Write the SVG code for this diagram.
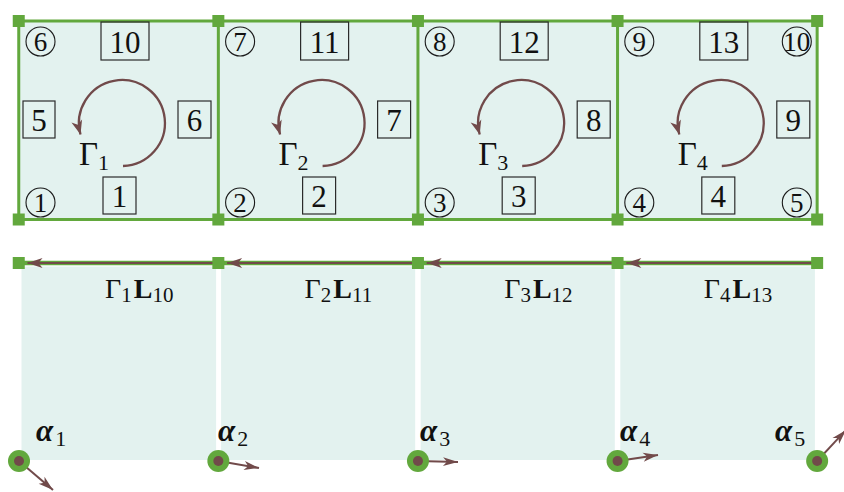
<svg xmlns="http://www.w3.org/2000/svg" width="844" height="492" viewBox="0 0 844 492">
<style>
.fill{fill:#e3f2ef}
.grid{fill:none;stroke:#62a83d;stroke-width:3}
.node{fill:#62a83d}
.box{fill:none;stroke:#2b2b2b;stroke-width:1.2}
.circ{fill:none;stroke:#1a1a1a;stroke-width:1.1}
.t{font-family:"Liberation Serif","DejaVu Serif",serif;fill:#111}
.num{font-size:31px;text-anchor:middle}
.cn{font-size:27px;text-anchor:middle}
.gam{fill:none;stroke:#714a4a;stroke-width:2.3}
.edgeG{stroke:#62a83d;stroke-width:4.5;fill:none}
.edgeB{stroke:#714a4a;stroke-width:2;fill:none}
.vec{stroke:#714a4a;stroke-width:2;fill:none}
.bl{font-weight:bold}
.al{font-weight:bold;font-style:italic}
.sub{font-weight:normal;font-style:normal}
</style>
<defs>
<marker id="ah" markerUnits="userSpaceOnUse" markerWidth="30" markerHeight="30" refX="0" refY="0" orient="auto" overflow="visible" viewBox="-20 -10 30 20">
<path d="M0,0 L-14,-5.5 L-10,0 L-14,5.5 Z" fill="#714a4a"/>
</marker>
<marker id="ah2" markerUnits="userSpaceOnUse" markerWidth="30" markerHeight="30" refX="0" refY="0" orient="auto" overflow="visible" viewBox="-20 -10 30 20">
<path d="M0,0 L-15,-5 L-11,0 L-15,5 Z" fill="#714a4a"/>
</marker>
<marker id="ah3" markerUnits="userSpaceOnUse" markerWidth="30" markerHeight="30" refX="0" refY="0" orient="auto" overflow="visible" viewBox="-20 -10 30 20">
<path d="M0,0 L-15,-4.5 L-11,0 L-15,4.5 Z" fill="#714a4a"/>
</marker>
</defs>

<!-- top mesh -->
<g id="mesh">
<rect class="fill" x="18.75" y="21" width="798.4" height="198.5"/>
<path class="grid" d="M18.75,21 H817.15 M18.75,219.5 H817.15 M18.75,21 V219.5 M218.35,21 V219.5 M417.95,21 V219.5 M617.55,21 V219.5 M817.15,21 V219.5"/>
</g>

<g id="cell1">
<circle class="circ" cx="40.5" cy="41.5" r="14.5"/><text class="t cn" x="40.5" y="50.5">6</text>
<circle class="circ" cx="40.5" cy="202.5" r="14.5"/><text class="t cn" x="40.5" y="211.5">1</text>
<rect class="box" x="101" y="22" width="48" height="38"/><text class="t num" x="125" y="52.5">10</text>
<rect class="box" x="23" y="101" width="32" height="37"/><text class="t num" x="39" y="130.5">5</text>
<rect class="box" x="178" y="101" width="33" height="37"/><text class="t num" x="194.5" y="130.5">6</text>
<rect class="box" x="103" y="177" width="33" height="37"/><text class="t num" x="119.5" y="206.5">1</text>
<path class="gam" d="M123,166 A43,43 0 1 0 80.5,134.5" marker-end="url(#ah)"/>
<text class="t" x="79" y="165" font-size="33">Γ<tspan x="98" y="170" font-size="22">1</tspan></text>
</g>

<g id="cell2" transform="translate(199.6,0)">
<circle class="circ" cx="40.5" cy="41.5" r="14.5"/><text class="t cn" x="40.5" y="50.5">7</text>
<circle class="circ" cx="40.5" cy="202.5" r="14.5"/><text class="t cn" x="40.5" y="211.5">2</text>
<rect class="box" x="101" y="22" width="48" height="38"/><text class="t num" x="125" y="52.5">11</text>
<rect class="box" x="178" y="101" width="33" height="37"/><text class="t num" x="194.5" y="130.5">7</text>
<rect class="box" x="103" y="177" width="33" height="37"/><text class="t num" x="119.5" y="206.5">2</text>
<path class="gam" d="M123,166 A43,43 0 1 0 80.5,134.5" marker-end="url(#ah)"/>
<text class="t" x="79" y="165" font-size="33">Γ<tspan x="98" y="170" font-size="22">2</tspan></text>
</g>

<g id="cell3" transform="translate(399.2,0)">
<circle class="circ" cx="40.5" cy="41.5" r="14.5"/><text class="t cn" x="40.5" y="50.5">8</text>
<circle class="circ" cx="40.5" cy="202.5" r="14.5"/><text class="t cn" x="40.5" y="211.5">3</text>
<rect class="box" x="101" y="22" width="48" height="38"/><text class="t num" x="125" y="52.5">12</text>
<rect class="box" x="178" y="101" width="33" height="37"/><text class="t num" x="194.5" y="130.5">8</text>
<rect class="box" x="103" y="177" width="33" height="37"/><text class="t num" x="119.5" y="206.5">3</text>
<path class="gam" d="M123,166 A43,43 0 1 0 80.5,134.5" marker-end="url(#ah)"/>
<text class="t" x="79" y="165" font-size="33">Γ<tspan x="98" y="170" font-size="22">3</tspan></text>
</g>

<g id="cell4" transform="translate(598.8,0)">
<circle class="circ" cx="40.5" cy="41.5" r="14.5"/><text class="t cn" x="40.5" y="50.5">9</text>
<circle class="circ" cx="40.5" cy="202.5" r="14.5"/><text class="t cn" x="40.5" y="211.5">4</text>
<circle class="circ" cx="198" cy="41.5" r="14.5"/><text class="t cn" x="198" y="50.5">10</text>
<circle class="circ" cx="198" cy="202.5" r="14.5"/><text class="t cn" x="198" y="211.5">5</text>
<rect class="box" x="101" y="22" width="48" height="38"/><text class="t num" x="125" y="52.5">13</text>
<rect class="box" x="178" y="101" width="33" height="37"/><text class="t num" x="194.5" y="130.5">9</text>
<rect class="box" x="103" y="177" width="33" height="37"/><text class="t num" x="119.5" y="206.5">4</text>
<path class="gam" d="M123,166 A43,43 0 1 0 80.5,134.5" marker-end="url(#ah)"/>
<text class="t" x="79" y="165" font-size="33">Γ<tspan x="98" y="170" font-size="22">4</tspan></text>
</g>

<g id="mesh-nodes">
<rect class="node" x="12.75" y="15" width="12" height="12"/>
<rect class="node" x="212.35" y="15" width="12" height="12"/>
<rect class="node" x="411.95" y="15" width="12" height="12"/>
<rect class="node" x="611.55" y="15" width="12" height="12"/>
<rect class="node" x="811.15" y="15" width="12" height="12"/>
<rect class="node" x="12.75" y="213.5" width="12" height="12"/>
<rect class="node" x="212.35" y="213.5" width="12" height="12"/>
<rect class="node" x="411.95" y="213.5" width="12" height="12"/>
<rect class="node" x="611.55" y="213.5" width="12" height="12"/>
<rect class="node" x="811.15" y="213.5" width="12" height="12"/>
</g>

<!-- bottom panels -->
<g id="panels">
<rect class="fill" x="21.5" y="266.5" width="194.6" height="193.5"/>
<rect class="fill" x="221.1" y="266.5" width="194.1" height="193.5"/>
<rect class="fill" x="420.7" y="266.5" width="194.1" height="193.5"/>
<rect class="fill" x="620.3" y="266.5" width="194.6" height="193.5"/>
</g>

<g id="connectors">
<path class="edgeG" d="M817.15,263 H18.75"/>
<path class="edgeB" d="M218.35,263 H27.5" marker-end="url(#ah2)"/>
<path class="edgeB" d="M417.95,263 H227.1" marker-end="url(#ah2)"/>
<path class="edgeB" d="M617.55,263 H426.7" marker-end="url(#ah2)"/>
<path class="edgeB" d="M817.15,263 H626.3" marker-end="url(#ah2)"/>
<path class="vec" d="M19,461 L53,490" marker-end="url(#ah3)"/>
<path class="vec" d="M218.35,461 L259,468" marker-end="url(#ah3)"/>
<path class="vec" d="M417.95,461 L458,462" marker-end="url(#ah3)"/>
<path class="vec" d="M617.55,461 L658,455" marker-end="url(#ah3)"/>
<path class="vec" d="M817.15,461 L846,430" marker-end="url(#ah3)"/>
</g>

<g id="edge-nodes">
<rect class="node" x="12.75" y="257" width="12" height="12"/>
<rect class="node" x="212.35" y="257" width="12" height="12"/>
<rect class="node" x="411.95" y="257" width="12" height="12"/>
<rect class="node" x="611.55" y="257" width="12" height="12"/>
<rect class="node" x="811.15" y="257" width="12" height="12"/>
</g>

<g id="edge-labels">
<text class="t" x="105" y="298" font-size="28">Γ<tspan font-size="21" dy="4">1</tspan><tspan class="bl" font-size="28" dx="2" dy="-4">L</tspan><tspan font-size="21" dy="4">10</tspan></text>
<text class="t" x="304.6" y="298" font-size="28">Γ<tspan font-size="21" dy="4">2</tspan><tspan class="bl" font-size="28" dx="2" dy="-4">L</tspan><tspan font-size="21" dy="4">11</tspan></text>
<text class="t" x="504.2" y="298" font-size="28">Γ<tspan font-size="21" dy="4">3</tspan><tspan class="bl" font-size="28" dx="2" dy="-4">L</tspan><tspan font-size="21" dy="4">12</tspan></text>
<text class="t" x="703.8" y="298" font-size="28">Γ<tspan font-size="21" dy="4">4</tspan><tspan class="bl" font-size="28" dx="2" dy="-4">L</tspan><tspan font-size="21" dy="4">13</tspan></text>
</g>

<g id="alpha1"><circle cx="19" cy="461" r="11" fill="#62a83d"/><circle cx="19" cy="461" r="5" fill="#714a4a"/>
<text class="t al" x="36" y="441" font-size="31">α<tspan class="sub" font-size="22" dx="2" dy="5">1</tspan></text></g>
<g id="alpha2"><circle cx="218.35" cy="461" r="11" fill="#62a83d"/><circle cx="218.35" cy="461" r="5" fill="#714a4a"/>
<text class="t al" x="218" y="441" font-size="31">α<tspan class="sub" font-size="22" dx="2" dy="5">2</tspan></text></g>
<g id="alpha3"><circle cx="417.95" cy="461" r="11" fill="#62a83d"/><circle cx="417.95" cy="461" r="5" fill="#714a4a"/>
<text class="t al" x="420" y="441" font-size="31">α<tspan class="sub" font-size="22" dx="2" dy="5">3</tspan></text></g>
<g id="alpha4"><circle cx="617.55" cy="461" r="11" fill="#62a83d"/><circle cx="617.55" cy="461" r="5" fill="#714a4a"/>
<text class="t al" x="620" y="441" font-size="31">α<tspan class="sub" font-size="22" dx="2" dy="5">4</tspan></text></g>
<g id="alpha5"><circle cx="817.15" cy="461" r="11" fill="#62a83d"/><circle cx="817.15" cy="461" r="5" fill="#714a4a"/>
<text class="t al" x="775" y="441" font-size="31">α<tspan class="sub" font-size="22" dx="2" dy="5">5</tspan></text></g>
</svg>
